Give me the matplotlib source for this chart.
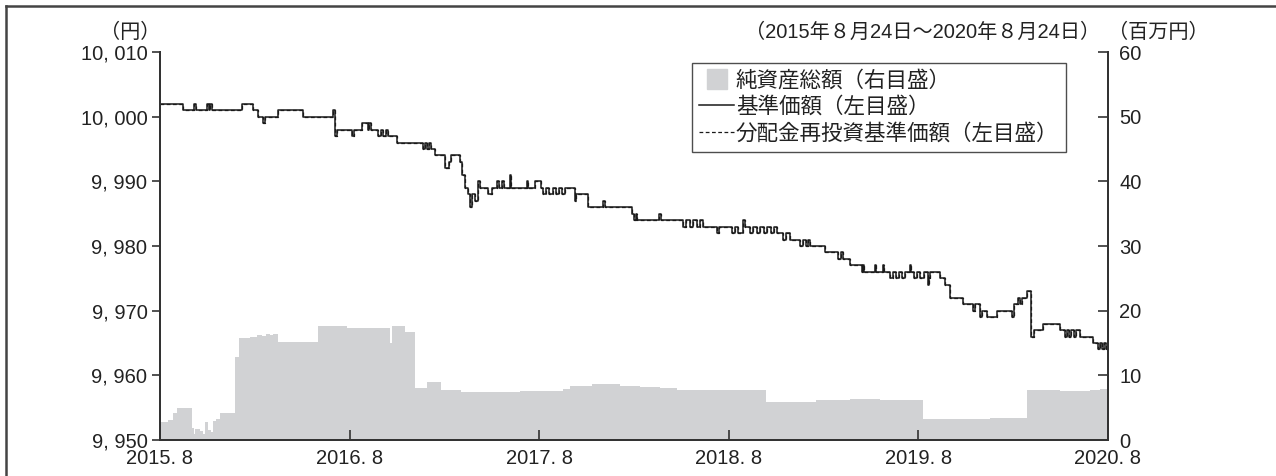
import pandas as pd
import matplotlib
matplotlib.use("Agg")
import matplotlib.pyplot as plt
from matplotlib.lines import Line2D

plt.rcParams['font.family'] = ['Liberation Sans', 'Noto Sans CJK JP']

# 基準価額（円） -- step breakpoints
nav_dates = [
    "2015-08-24", "2015-10-07", "2015-10-29", "2015-11-01", "2015-11-23", "2015-11-26",
    "2015-11-28", "2015-12-02", "2016-01-29", "2016-02-19", "2016-02-29", "2016-03-09",
    "2016-03-13", "2016-04-07", "2016-05-26", "2016-07-22", "2016-07-26", "2016-07-30",
    "2016-08-28", "2016-09-01", "2016-09-16", "2016-09-28", "2016-09-30", "2016-10-04",
    "2016-10-17", "2016-10-23", "2016-10-27", "2016-11-02", "2016-11-05", "2016-11-23",
    "2017-01-12", "2017-01-16", "2017-01-20", "2017-01-23", "2017-01-27", "2017-02-04",
    "2017-02-23", "2017-03-03", "2017-03-07", "2017-03-24", "2017-03-28", "2017-04-03",
    "2017-04-09", "2017-04-12", "2017-04-16", "2017-04-22", "2017-04-28", "2017-05-02",
    "2017-05-17", "2017-05-25", "2017-06-03", "2017-06-07", "2017-06-13", "2017-06-17",
    "2017-06-28", "2017-06-30", "2017-07-31", "2017-08-02", "2017-08-16", "2017-08-27",
    "2017-08-31", "2017-09-06", "2017-09-12", "2017-09-19", "2017-09-25", "2017-10-01",
    "2017-10-07", "2017-10-12", "2017-11-01", "2017-11-03", "2017-11-26", "2017-12-25",
    "2017-12-29", "2018-02-19", "2018-02-22", "2018-02-26", "2018-02-28", "2018-04-12",
    "2018-04-15", "2018-05-28", "2018-06-03", "2018-06-10", "2018-06-16", "2018-06-24",
    "2018-06-30", "2018-07-05", "2018-08-01", "2018-08-05", "2018-08-30", "2018-09-05",
    "2018-09-11", "2018-09-20", "2018-09-24", "2018-10-04", "2018-10-10", "2018-10-17",
    "2018-10-23", "2018-10-31", "2018-11-06", "2018-11-13", "2018-11-19", "2018-11-25",
    "2018-12-07", "2018-12-12", "2018-12-20", "2019-01-08", "2019-01-14", "2019-01-20",
    "2019-01-24", "2019-01-28", "2019-02-25", "2019-03-23", "2019-03-28", "2019-04-01",
    "2019-04-15", "2019-05-08", "2019-05-10", "2019-05-12", "2019-06-02", "2019-06-04",
    "2019-06-17", "2019-06-19", "2019-07-01", "2019-07-06", "2019-07-12", "2019-07-18",
    "2019-07-24", "2019-07-30", "2019-08-08", "2019-08-10", "2019-08-16", "2019-08-22",
    "2019-08-28", "2019-09-04", "2019-09-12", "2019-09-14", "2019-09-16", "2019-10-05",
    "2019-10-15", "2019-10-24", "2019-11-18", "2019-12-08", "2019-12-11", "2019-12-21",
    "2019-12-25", "2020-01-04", "2020-01-23", "2020-02-21", "2020-02-25", "2020-03-03",
    "2020-03-07", "2020-03-11", "2020-03-21", "2020-03-28", "2020-04-03", "2020-04-21",
    "2020-05-23", "2020-06-02", "2020-06-06", "2020-06-10", "2020-06-14", "2020-06-19",
    "2020-06-23", "2020-07-01", "2020-07-26", "2020-08-05", "2020-08-08", "2020-08-12",
    "2020-08-16", "2020-08-20", "2020-08-24",
]
nav_values = [
    10002, 10001, 10002, 10001, 10002, 10001,
    10002, 10001, 10002, 10001, 10000, 9999,
    10000, 10001, 10000, 10001, 9997, 9998,
    9997, 9998, 9999, 9998, 9999, 9998,
    9997, 9998, 9997, 9998, 9997, 9996,
    9995, 9996, 9995, 9996, 9995, 9994,
    9992, 9993, 9994, 9993, 9991, 9989,
    9988, 9986, 9988, 9987, 9990, 9989,
    9988, 9989, 9990, 9989, 9990, 9989,
    9991, 9989, 9990, 9989, 9990, 9989,
    9988, 9989, 9988, 9989, 9988, 9989,
    9988, 9989, 9987, 9988, 9986, 9987,
    9986, 9985, 9984, 9985, 9984, 9985,
    9984, 9983, 9984, 9983, 9984, 9983,
    9984, 9983, 9982, 9983, 9982, 9983,
    9982, 9984, 9983, 9982, 9983, 9982,
    9983, 9982, 9983, 9982, 9983, 9982,
    9981, 9982, 9981, 9980, 9981, 9980,
    9981, 9980, 9979, 9978, 9979, 9978,
    9977, 9976, 9977, 9976, 9977, 9976,
    9977, 9976, 9975, 9976, 9975, 9976,
    9975, 9976, 9977, 9976, 9975, 9976,
    9975, 9976, 9974, 9975, 9976, 9975,
    9974, 9972, 9971, 9970, 9971, 9969,
    9970, 9969, 9970, 9969, 9971, 9972,
    9971, 9972, 9973, 9966, 9967, 9968,
    9967, 9966, 9967, 9966, 9967, 9966,
    9967, 9966, 9965, 9964, 9965, 9964,
    9965, 9964, 9964,
]
# no distributions were paid, so the reinvested NAV is the same series
reinvest_values = nav_values

# 純資産総額（百万円）
aum_dates = [
    "2015-08-24", "2015-09-08", "2015-09-18", "2015-09-26", "2015-10-25", "2015-10-29",
    "2015-10-30", "2015-11-09", "2015-11-15", "2015-11-19", "2015-11-24", "2015-11-30",
    "2015-12-04", "2015-12-10", "2015-12-18", "2016-01-16", "2016-01-23", "2016-02-13",
    "2016-02-27", "2016-03-08", "2016-03-15", "2016-03-23", "2016-03-29", "2016-04-07",
    "2016-06-23", "2016-08-18", "2016-11-09", "2016-11-13", "2016-12-08", "2016-12-27",
    "2017-01-20", "2017-02-15", "2017-03-26", "2017-07-18", "2017-10-09", "2017-10-22",
    "2017-12-03", "2018-01-26", "2018-03-06", "2018-04-14", "2018-05-16", "2018-08-07",
    "2018-11-04", "2019-02-08", "2019-04-15", "2019-06-11", "2019-09-02", "2019-11-13",
    "2020-01-09", "2020-03-21", "2020-05-23", "2020-07-20", "2020-08-08", "2020-08-24",
]
aum_values = [
    2.8, 3.1, 4.2, 4.9, 1.8, 1.0,
    1.7, 1.4, 1.0, 2.8, 1.6, 1.2,
    3.0, 3.3, 4.1, 12.9, 15.7, 16.0,
    16.3, 16.1, 16.4, 16.2, 16.4, 15.1,
    17.6, 17.3, 15.0, 17.7, 16.7, 8.1,
    9.0, 7.8, 7.5, 7.6, 7.9, 8.3,
    8.6, 8.4, 8.2, 8.0, 7.8, 7.7,
    5.9, 6.2, 6.3, 6.2, 3.2, 3.3,
    3.4, 7.7, 7.6, 7.7, 7.9, 7.9,
]

x_tick_dates = ["2015-08-24", "2016-08-24", "2017-08-24", "2018-08-24", "2019-08-24", "2020-08-24"]
x_tick_labels = ["2015. 8", "2016. 8", "2017. 8", "2018. 8", "2019. 8", "2020. 8"]
left_ticks = [9950, 9960, 9970, 9980, 9990, 10000, 10010]
right_ticks = [0, 10, 20, 30, 40, 50, 60]
legend_labels = ["純資産総額（右目盛）", "基準価額（左目盛）", "分配金再投資基準価額（左目盛）"]

AREA = "#d1d2d4"
INK = "#1a1a1a"
SPINE = "#333333"
TXT = "#222222"
TICK_FS = 14.5

fig = plt.figure(figsize=(12.76, 4.76), dpi=100)
ax = fig.add_axes([160 / 1276, 36 / 476, 948 / 1276, 388 / 476])
ax2 = ax.twinx()
ax.set_zorder(ax2.get_zorder() + 1)
ax.patch.set_visible(False)

nd = pd.to_datetime(nav_dates)
ad = pd.to_datetime(aum_dates)

ax2.fill_between(ad, aum_values, step="post", color=AREA, lw=0)
ax.plot(nd, reinvest_values, drawstyle="steps-post", color=INK, lw=0.9, ls=(0, (3, 2)))
ax.plot(nd, nav_values, drawstyle="steps-post", color=INK, lw=1.1)

xt = pd.to_datetime(x_tick_dates)
ax.set_xlim(xt[0], xt[-1])
ax.set_xticks(xt)
ax.set_xticklabels(x_tick_labels)
ax.set_ylim(left_ticks[0], left_ticks[-1])
ax.set_yticks(left_ticks)
ax.set_yticklabels([f"{v:,}".replace(",", ", ") for v in left_ticks])
ax2.set_ylim(right_ticks[0], right_ticks[-1])
ax2.set_yticks(right_ticks)

for a in (ax, ax2):
    a.spines["top"].set_visible(False)
    for s in ("left", "right", "bottom"):
        a.spines[s].set_color(SPINE)
        a.spines[s].set_linewidth(1.4)

ax.tick_params(axis="y", direction="out", length=6, width=1.2, color=SPINE,
               labelsize=TICK_FS, labelcolor=TXT, pad=3)
ax.tick_params(axis="x", direction="in", length=7, width=1.2, color=SPINE,
               labelsize=TICK_FS, labelcolor=TXT, pad=6.5)
ax2.tick_params(axis="y", direction="in", length=7, width=1.2, color=SPINE,
                labelsize=TICK_FS, labelcolor=TXT, pad=8)

# unit labels and period
fig.text(130 / 1276, 1 - 32 / 476, "（円）", ha="center", va="center", fontsize=14.5, color=TXT)
fig.text(1108 / 1276, 1 - 32 / 476, "（百万円）", ha="left", va="center", fontsize=14.5, color=TXT)
fig.text(1100 / 1276, 1 - 32 / 476, "（2015年８月24日～2020年８月24日）", ha="right", va="center",
         fontsize=14.5, color=TXT)

handles = [
    Line2D([], [], marker="s", ms=15, color=AREA, ls="none"),
    Line2D([], [], color=INK, lw=1.1),
    Line2D([], [], color=INK, lw=0.9, ls=(0, (3, 2))),
]
leg = ax.legend(handles, legend_labels, loc="upper left", bbox_to_anchor=(0.561, 0.972),
                borderaxespad=0, frameon=True, fancybox=False, fontsize=15.5,
                handlelength=1.6, handletextpad=0.1, labelspacing=0.25, borderpad=0.35)
leg.get_frame().set_edgecolor(TXT)
leg.get_frame().set_linewidth(1.0)
for t in leg.get_texts():
    t.set_color(TXT)

# outer frame of the figure (only top and left edges are inside the image)
fig.add_artist(Line2D([6 / 1276, 6 / 1276], [0, 1 - 6 / 476], transform=fig.transFigure,
                      color="#444444", lw=1.8))
fig.add_artist(Line2D([6 / 1276, 1], [1 - 6 / 476, 1 - 6 / 476], transform=fig.transFigure,
                      color="#444444", lw=1.8))

fig.savefig("out.png", dpi=100)
